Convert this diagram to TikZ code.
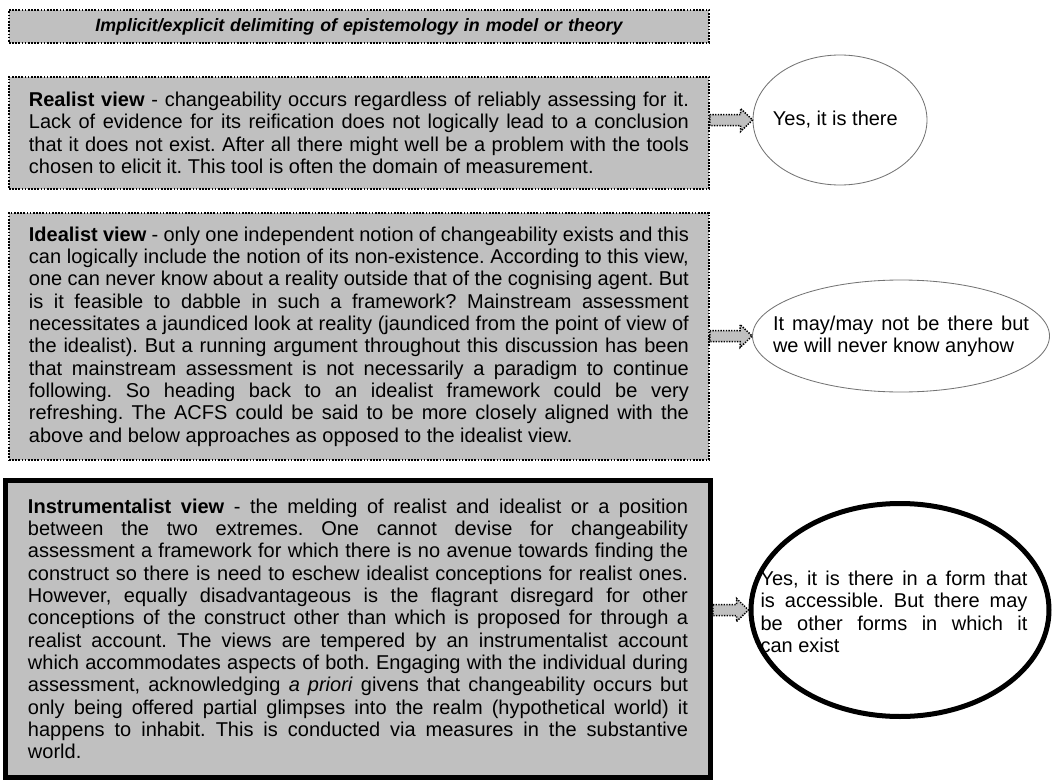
\documentclass[tikz,border=0pt]{standalone}
\usepackage{fontspec}
\setmainfont{Liberation Sans}
\usepackage{tikz}
\usetikzlibrary{shapes.geometric,calc}
\definecolor{boxgray}{RGB}{192,192,192}
\hyphenpenalty=10000
\frenchspacing

\begin{document}
\begin{tikzpicture}[x=0.6pt, y=-0.6pt,
  viewbox/.style={draw=black, fill=boxgray, line width=1.1pt, dash pattern=on 1pt off 0.9pt,
    inner xsep=12pt, inner ysep=0pt, text width=396pt, minimum width=420pt,
    align=justify, anchor=north west, font=\fontsize{12}{13.4}\selectfont},
  answer/.style={ellipse, draw=black!55, fill=white, line width=0.5pt, inner sep=0pt},
  answertext/.style={inner sep=0pt, font=\fontsize{12}{13.4}\selectfont},
  blockarrow/.style={draw=black, fill=boxgray, line width=0.9pt, dash pattern=on 0.8pt off 0.8pt}]
  % 画布 1062 x 783 px, 1 px = 0.6 pt, y 轴向下
  \useasboundingbox (0,0) rectangle (1062,783);

  % ---------------- 标题 ----------------
  \node[viewbox, minimum height=19.8pt, align=center,
        font=\fontsize{10.7}{12}\selectfont\bfseries\itshape] (title) at (8,9)
    {Implicit/explicit delimiting of epistemology in model or theory};

  % ---------------- 三种观点 ----------------
  % Realist view
  \node[viewbox, minimum height=67.2pt] (real) at (8,76)
    {\textbf{Realist view} - changeability occurs regardless of reliably assessing for it.\linebreak
     Lack of evidence for its reification does not logically lead to a conclusion\linebreak
     that it does not exist. After all there might well be a problem with the tools\linebreak
     chosen to elicit it. This tool is often the domain of measurement.};

  % Idealist view
  \node[viewbox, minimum height=148.2pt] (ideal) at (8,212)
    {\textbf{Idealist view} - only one independent notion of changeability exists and this\linebreak
     can logically include the notion of its non-existence. According to this view,\linebreak
     one can never know about a reality outside that of the cognising agent. But\linebreak
     is it feasible to dabble in such a framework? Mainstream assessment\linebreak
     necessitates a jaundiced look at reality (jaundiced from the point of view of\linebreak
     the idealist). But a running argument throughout this discussion has been\linebreak
     that mainstream assessment is not necessarily a paradigm to continue\linebreak
     following. So heading back to an idealist framework could be very\linebreak
     refreshing. The ACFS could be said to be more closely aligned with the\linebreak
     above and below approaches as opposed to the idealist view.};

  % Instrumentalist view (粗实线框)
  \node[viewbox, solid, line width=3pt, minimum width=423pt, minimum height=178.2pt] (instr) at (3,478)
    {\textbf{Instrumentalist view} - the melding of realist and idealist or a position\linebreak
     between the two extremes. One cannot devise for changeability\linebreak
     assessment a framework for which there is no avenue towards finding the\linebreak
     construct so there is need to eschew idealist conceptions for realist ones.\linebreak
     However, equally disadvantageous is the flagrant disregard for other\linebreak
     conceptions of the construct other than which is proposed for through a\linebreak
     realist account. The views are tempered by an instrumentalist account\linebreak
     which accommodates aspects of both. Engaging with the individual during\linebreak
     assessment, acknowledging \textit{a priori} givens that changeability occurs but\linebreak
     only being offered partial glimpses into the realm (hypothetical world) it\linebreak
     happens to inhabit. This is conducted via measures in the substantive\linebreak
     world.};

  % ---------------- 右侧椭圆 ----------------
  \node[answer, minimum width=104.4pt, minimum height=78pt] (yes1) at (840,120) {};
  \node[answertext, anchor=west] (yes1-text) at ([xshift=12pt]yes1.west) {Yes, it is there};

  \node[answer, minimum width=178.2pt, minimum height=67.2pt] (maybe) at (901,336) {};
  \node[answertext, text width=153.6pt, align=justify] (maybe-text) at (maybe)
    {It may/may not be there but\linebreak we will never know anyhow};

  \node[answer, draw=black, line width=3pt, minimum width=178.8pt, minimum height=127.8pt] (partly) at (900,610) {};
  \node[answertext, text width=160.2pt, align=justify] (partly-text) at (894,612)
    {Yes, it is there in a form that\linebreak is accessible. But there may\linebreak
     be other forms in which it\linebreak can exist};

  % ---------------- 块状箭头 ----------------
  \foreach \from/\to in {real/yes1, ideal/maybe, instr/partly} {
    \draw[blockarrow] ($(\from.east |- \to.west)+(0,-5.5)$) -- ($(\to.west)+(-12,-5.5)$)
      -- ($(\to.west)+(-12,-11.5)$) -- (\to.west) -- ($(\to.west)+(-12,11.5)$)
      -- ($(\to.west)+(-12,5.5)$) -- ($(\from.east |- \to.west)+(0,5.5)$) -- cycle;
  }
\end{tikzpicture}
\end{document}
